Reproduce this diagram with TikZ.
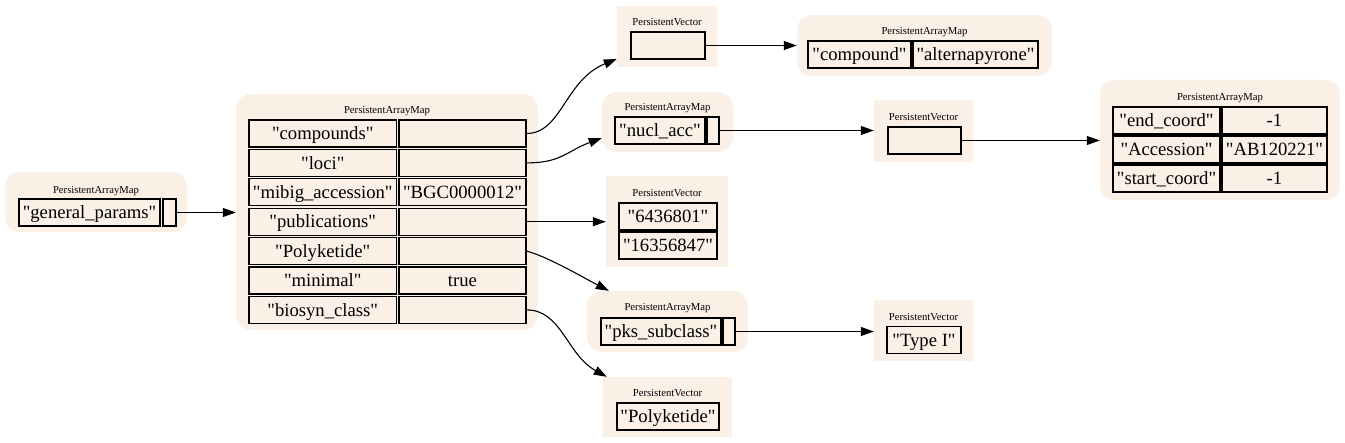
\documentclass[tikz,border=0pt]{standalone}
\usepackage{fontspec}
\newfontfamily\gvfont{Liberation Serif}
\usetikzlibrary{arrows.meta}
\definecolor{linen}{RGB}{250,240,230}
\newcommand\cellfont{\gvfont\fontsize{18.67}{22}\selectfont}
\newcommand\hdrfont{\gvfont\fontsize{10.67}{12}\selectfont}
\tikzset{
  mapbox/.style={fill=linen, draw=none, rounded corners=15pt, inner sep=0pt},
  vecbox/.style={fill=linen, draw=none, inner sep=0pt},
  cellbox/.style={draw=black, line width=1.1pt, fill=linen, inner sep=0pt,
    minimum height=27pt, text height=14.5pt, text depth=2pt, font=\cellfont},
  hdr/.style={font=\hdrfont, inner sep=0pt, anchor=base},
  edge/.style={line width=1.1pt, -{Triangle[length=13pt,width=9pt]}}
}
\begin{document}
\begin{tikzpicture}[x=1pt,y=-1pt]
\useasboundingbox (0,0) rectangle (1345,443);
% containers
\node[mapbox, minimum width=182pt, minimum height=60pt] (A) at (96,202) {};
\node[mapbox, minimum width=302pt, minimum height=236pt] (B) at (387,212) {};
\node[vecbox, minimum width=100pt, minimum height=61pt] (C) at (667,36.5) {};
\node[mapbox, minimum width=255pt, minimum height=61pt] (D) at (924.5,45.5) {};
\node[mapbox, minimum width=131pt, minimum height=60pt] (E) at (667.5,122) {};
\node[vecbox, minimum width=99pt, minimum height=62pt] (F) at (923.5,131) {};
\node[vecbox, minimum width=122pt, minimum height=91pt] (G) at (667,221.5) {};
\node[mapbox, minimum width=161pt, minimum height=61pt] (H) at (667.5,321.5) {};
\node[vecbox, minimum width=99pt, minimum height=61pt] (I) at (923.5,330.5) {};
\node[vecbox, minimum width=129pt, minimum height=60pt] (J) at (667.5,407) {};
\node[mapbox, minimum width=240pt, minimum height=120pt] (K) at (1220,140) {};
% headers
\node[hdr] (Ah) at (96,193.5) {PersistentArrayMap};
\node[hdr] (Bh) at (387,114) {PersistentArrayMap};
\node[hdr] (Ch) at (667,26) {PersistentVector};
\node[hdr] (Dh) at (924.5,35) {PersistentArrayMap};
\node[hdr] (Eh) at (667.5,111) {PersistentArrayMap};
\node[hdr] (Fh) at (923.5,121) {PersistentVector};
\node[hdr] (Gh) at (667,197) {PersistentVector};
\node[hdr] (Hh) at (667.5,311) {PersistentArrayMap};
\node[hdr] (Ih) at (923.5,321) {PersistentVector};
\node[hdr] (Jh) at (667.5,397) {PersistentVector};
\node[hdr] (Kh) at (1220,101) {PersistentArrayMap};
% A cells
\node[cellbox, minimum width=141pt] (a1) at (89.5,212.5) {"general\_params"};
\node[cellbox, minimum width=13pt] (a2) at (169.5,212.5) {};
% B cells
\node[cellbox, minimum width=147.5pt] (b1k) at (322.75,133.5) {"compounds"};
\node[cellbox, minimum width=127pt] (b1v) at (462.5,133.5) {};
\node[cellbox, minimum width=147.5pt] (b2k) at (322.75,162.9) {"loci"};
\node[cellbox, minimum width=127pt] (b2v) at (462.5,162.9) {};
\node[cellbox, minimum width=147.5pt] (b3k) at (322.75,192.3) {"mibig\_accession"};
\node[cellbox, minimum width=127pt] (b3v) at (462.5,192.3) {"BGC0000012"};
\node[cellbox, minimum width=147.5pt] (b4k) at (322.75,221.7) {"publications"};
\node[cellbox, minimum width=127pt] (b4v) at (462.5,221.7) {};
\node[cellbox, minimum width=147.5pt] (b5k) at (322.75,251.1) {"Polyketide"};
\node[cellbox, minimum width=127pt] (b5v) at (462.5,251.1) {};
\node[cellbox, minimum width=147.5pt] (b6k) at (322.75,280.5) {"minimal"};
\node[cellbox, minimum width=127pt] (b6v) at (462.5,280.5) {true};
\node[cellbox, minimum width=147.5pt] (b7k) at (322.75,309.9) {"biosyn\_class"};
\node[cellbox, minimum width=127pt] (b7v) at (462.5,309.9) {};
% C
\node[cellbox, minimum width=74pt] (c1) at (668,45.5) {};
% D
\node[cellbox, minimum width=103pt] (d1) at (859.5,54.5) {"compound"};
\node[cellbox, minimum width=125pt] (d2) at (975.5,54.5) {"alternapyrone"};
% E
\node[cellbox, minimum width=90pt] (e1) at (660,130.5) {"nucl\_acc"};
\node[cellbox, minimum width=12pt] (e2) at (713,130.5) {};
% F
\node[cellbox, minimum width=73pt] (f1) at (924.5,140.5) {};
% G
\node[cellbox, minimum width=98pt] (g1) at (668,216.5) {"6436801"};
\node[cellbox, minimum width=98pt] (g2) at (668,245.5) {"16356847"};
% H
\node[cellbox, minimum width=120pt] (h1) at (661,331.5) {"pks\_subclass"};
\node[cellbox, minimum width=12pt] (h2) at (729,331.5) {};
% I
\node[cellbox, minimum width=74pt] (i1) at (924,340) {"Type I"};
% J
\node[cellbox, minimum width=102pt] (j1) at (668,416.5) {"Polyketide"};
% K
\node[cellbox, minimum width=107pt] (k1k) at (1166.5,120.5) {"end\_coord"};
\node[cellbox, minimum width=105pt] (k1v) at (1274.5,120.5) {-1};
\node[cellbox, minimum width=107pt] (k2k) at (1166.5,149.5) {"Accession"};
\node[cellbox, minimum width=105pt] (k2v) at (1274.5,149.5) {"AB120221"};
\node[cellbox, minimum width=107pt] (k3k) at (1166.5,178.5) {"start\_coord"};
\node[cellbox, minimum width=105pt] (k3v) at (1274.5,178.5) {-1};
% edges
\draw[edge] (a2.east) -- (a2.east -| B.west);
\draw[edge] (b1v.east) .. controls +(35,0) and +(-52,21) .. ([yshift=-22.5pt]C.west);
\draw[edge] (b2v.east) .. controls +(35,0) and +(-35,13) .. ([yshift=-16pt]E.west);
\draw[edge] (b4v.east) -- (b4v.east -| G.west);
\draw[edge] (b5v.east) .. controls +(20,5) and +(-25,-13) .. ([xshift=22pt]H.north west);
\draw[edge] (b7v.east) .. controls +(35,0) and +(-40,-22) .. ([xshift=4pt]J.north west);
\draw[edge] (c1.east) -- (c1.east -| D.west);
\draw[edge] (e2.east) -- (e2.east -| F.west);
\draw[edge] (f1.east) -- (f1.east -| K.west);
\draw[edge] (h2.east) -- (h2.east -| I.west);
\end{tikzpicture}
\end{document}
